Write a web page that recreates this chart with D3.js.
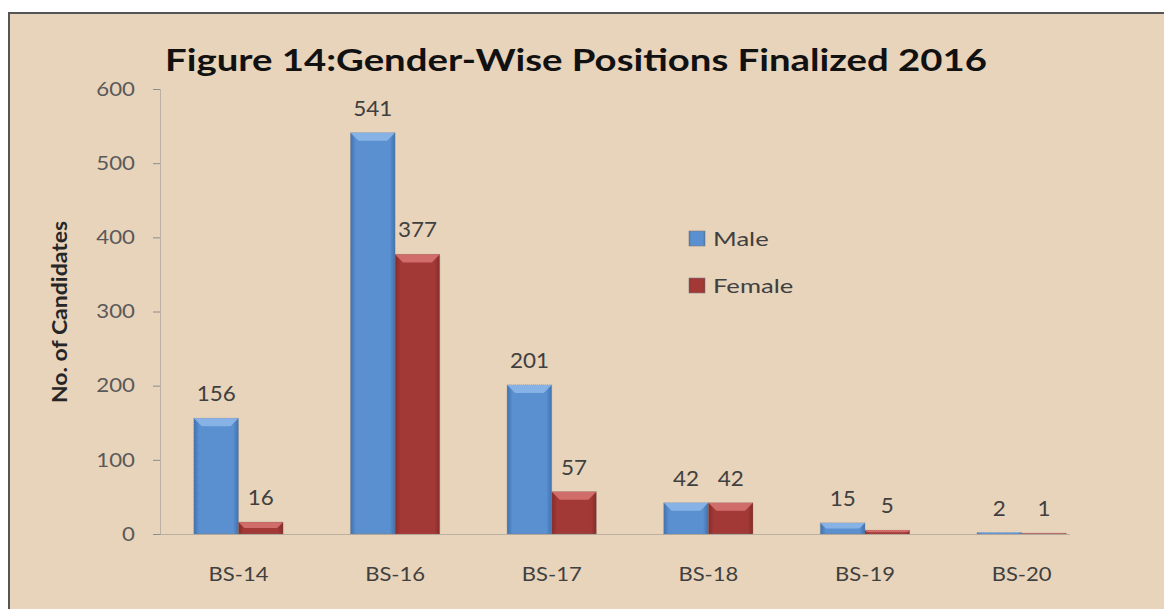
<!DOCTYPE html>
<html>
<head>
<meta charset="utf-8">
<script src="https://cdn.jsdelivr.net/npm/d3@7"></script>
<style>
  body { margin: 0; background: #fff; }
  text { font-family: Lato, "Open Sans", sans-serif; }
</style>
</head>
<body>
<div id="chart"></div>
<script>
// chart data
var categories = ["BS-14", "BS-16", "BS-17", "BS-18", "BS-19", "BS-20"];
var seriesNames = ["Male", "Female"];
var maleValues = [156, 541, 201, 42, 15, 2];
var femaleValues = [16, 377, 57, 42, 5, 1];
var yTicks = [0, 100, 200, 300, 400, 500, 600];

var svgWidth = 1164;
var svgHeight = 609;

var colors = { Male: ["#3f72b0", "#5a8fd0", "#8fb8ea"], Female: ["#862b29", "#a23936", "#d87572"] };

var svg = d3.select("#chart")
    .append("svg")
    .attr("width", svgWidth)
    .attr("height", svgHeight);

// the text in the original is wider than our fonts, stretch it a bit
function placeText(sel, fx, fy, sx) {
    sel.attr("transform", function (d, i) {
        return "translate(" + fx(d, i) + "," + fy(d, i) + ") scale(" + sx + ",1)";
    });
}

// frame
svg.append("rect")
    .attr("x", 9).attr("y", 13)
    .attr("width", svgWidth).attr("height", svgHeight)
    .attr("fill", "#e8d3bb")
    .attr("stroke", "#555")
    .attr("stroke-width", 2);

// gradients for the bevelled bars
var defs = svg.append("defs");
seriesNames.forEach(function (s) {
    var g = defs.append("linearGradient").attr("id", "grad-" + s)
        .attr("x1", "0%").attr("x2", "100%").attr("y1", "0%").attr("y2", "0%");
    g.append("stop").attr("offset", "0%").attr("stop-color", colors[s][0]);
    g.append("stop").attr("offset", "12%").attr("stop-color", colors[s][1]);
    g.append("stop").attr("offset", "88%").attr("stop-color", colors[s][1]);
    g.append("stop").attr("offset", "100%").attr("stop-color", colors[s][0]);
});

// scales
var x = d3.scaleBand()
    .domain(categories)
    .range([160, 1070])
    .paddingInner(0.43)
    .paddingOuter(0.12)
    .align(0.9);

var xSub = d3.scaleBand()
    .domain(seriesNames)
    .range([0, x.bandwidth()]);

var y = d3.scaleLinear()
    .domain([0, 600])
    .range([534, 89]);

// y axis
var yAxis = svg.append("g")
    .attr("transform", "translate(160,0)")
    .call(d3.axisLeft(y).tickValues(yTicks).tickSize(7).tickSizeOuter(0).tickPadding(15));
yAxis.select(".domain").attr("stroke", "#8c8c8c").attr("stroke-dasharray", "1,1");
yAxis.selectAll(".tick line").attr("stroke", "#8c8c8c");
yAxis.selectAll(".tick text")
    .attr("font-size", 19.5)
    .attr("fill", "#595959")
    .attr("transform", "scale(1.14,1)")
    .style("font-family", "Lato, sans-serif");

// x axis
var xAxis = svg.append("g")
    .attr("transform", "translate(0,534)")
    .call(d3.axisBottom(x).tickSize(0).tickSizeOuter(0).tickPadding(33));
xAxis.select(".domain").attr("stroke", "#8c8c8c").attr("stroke-dasharray", "1,1");
xAxis.selectAll(".tick text")
    .attr("font-size", 19.5)
    .attr("fill", "#404040")
    .attr("transform", "scale(1.13,1)")
    .style("font-family", "Lato, sans-serif");

// bars
var rows = [];
categories.forEach(function (c, i) {
    rows.push({ cat: c, series: "Male", value: maleValues[i] });
    rows.push({ cat: c, series: "Female", value: femaleValues[i] });
});

var bars = svg.append("g").selectAll("g")
    .data(rows)
    .enter()
    .append("g");

bars.append("rect")
    .attr("x", function (d) { return x(d.cat) + xSub(d.series); })
    .attr("y", function (d) { return y(d.value); })
    .attr("width", xSub.bandwidth())
    .attr("height", function (d) { return y(0) - y(d.value); })
    .attr("fill", function (d) { return "url(#grad-" + d.series + ")"; })
    .attr("stroke", "#7d7d7d")
    .attr("stroke-width", 0.6)
    .attr("stroke-dasharray", "1,1");

// top bevel
bars.append("path")
    .attr("d", function (d) {
        var x0 = x(d.cat) + xSub(d.series), w = xSub.bandwidth();
        var y0 = y(d.value), h = y(0) - y(d.value);
        var b = Math.min(8, h / 2);
        return "M" + x0 + "," + y0 + "L" + (x0 + w) + "," + y0 +
            "L" + (x0 + w - b) + "," + (y0 + b) + "L" + (x0 + b) + "," + (y0 + b) + "Z";
    })
    .attr("fill", function (d) { return colors[d.series][2]; })
    .attr("opacity", 0.85);

// value labels
svg.append("g").selectAll("text")
    .data(rows)
    .enter()
    .append("text")
    .attr("text-anchor", "middle")
    .attr("font-size", 22)
    .attr("fill", "#404040")
    .text(function (d) { return d.value; })
    .call(placeText,
        function (d) { return x(d.cat) + xSub(d.series) + xSub.bandwidth() / 2; },
        function (d) { return y(d.value) - 17; }, 1.02);

// legend
var legend = svg.append("g").selectAll("g")
    .data(seriesNames)
    .enter()
    .append("g")
    .attr("transform", function (d, i) { return "translate(689," + (231 + i * 47) + ")"; });

legend.append("rect")
    .attr("width", 16)
    .attr("height", 15)
    .attr("fill", function (d) { return "url(#grad-" + d + ")"; })
    .attr("stroke", "#7d7d7d")
    .attr("stroke-width", 0.6);

legend.append("text")
    .attr("font-size", 20)
    .attr("fill", "#404040")
    .text(function (d) { return d; })
    .call(placeText, function () { return 24; }, function () { return 15; }, 1.28);

// titles
svg.append("text")
    .attr("text-anchor", "middle")
    .attr("font-size", 31)
    .attr("font-weight", "bold")
    .attr("fill", "#111")
    .text("Figure 14:Gender-Wise Positions Finalized 2016")
    .call(placeText, function () { return 576; }, function () { return 71; }, 1.236);

svg.append("text")
    .attr("transform", "translate(67,312) rotate(-90) scale(1.15,1)")
    .attr("text-anchor", "middle")
    .attr("font-size", 20)
    .attr("font-weight", "bold")
    .attr("fill", "#262626")
    .text("No. of Candidates");
</script>
</body>
</html>
